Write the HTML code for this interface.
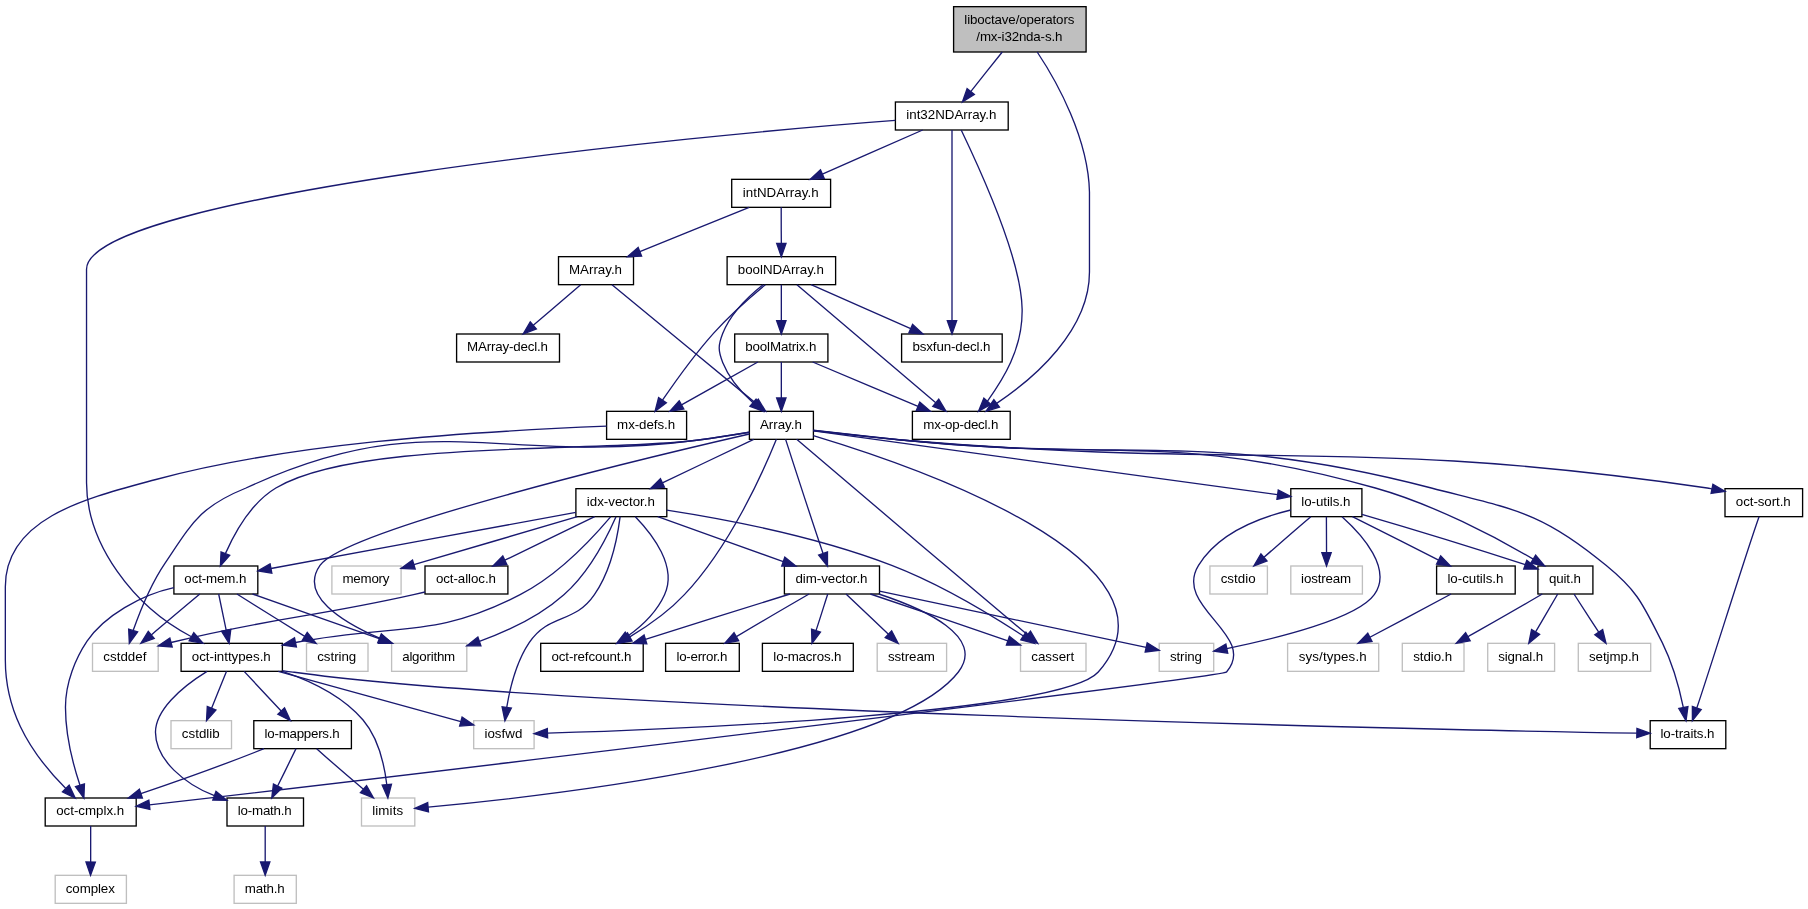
<!DOCTYPE html>
<html><head><meta charset="utf-8"><title>mx-i32nda-s.h include graph</title>
<style>html,body{margin:0;padding:0;background:#fff}svg{display:block;will-change:transform}text{font-family:"Liberation Sans",Helvetica,Arial,sans-serif;font-size:10px;text-anchor:middle;fill:#000}.e{fill:none;stroke:#191970;stroke-width:1}.a{fill:#191970;stroke:#191970;stroke-width:1}.n{fill:#fff;stroke:#000;stroke-width:1}.s{fill:#fff;stroke:#bfbfbf;stroke-width:1}.r{fill:#bfbfbf;stroke:#000;stroke-width:1}</style></head><body>
<svg width="1808" height="909" viewBox="0 0 1356 681.75">
<rect x="0" y="0" width="1356" height="682" fill="#fff"/>
<rect class="r" x="715.2" y="5" width="99.37" height="34"/>
<text x="764.51" y="17.9" textLength="82.5">liboctave/operators</text>
<text x="764.51" y="30.9" textLength="64.5">/mx-i32nda-s.h</text>
<rect class="n" x="671.55" y="76.5" width="84.6" height="21"/>
<text x="713.48" y="89.4" textLength="67.5">int32NDArray.h</text>
<rect class="n" x="548.78" y="134.5" width="74.17" height="21"/>
<text x="585.49" y="147.4" textLength="57">intNDArray.h</text>
<rect class="n" x="418.88" y="192.5" width="56.25" height="21"/>
<text x="446.62" y="205.4" textLength="39.75">MArray.h</text>
<rect class="n" x="545.33" y="192.5" width="81.38" height="21"/>
<text x="585.64" y="205.4" textLength="64.5">boolNDArray.h</text>
<rect class="n" x="342.45" y="250.5" width="77.17" height="21"/>
<text x="380.66" y="263.4" textLength="60.75">MArray-decl.h</text>
<rect class="n" x="551.03" y="250.5" width="69.9" height="21"/>
<text x="585.6" y="263.4" textLength="53.25">boolMatrix.h</text>
<rect class="n" x="676.2" y="250.5" width="75.45" height="21"/>
<text x="713.55" y="263.4" textLength="58.5">bsxfun-decl.h</text>
<rect class="n" x="454.95" y="308.5" width="60" height="21"/>
<text x="484.58" y="321.4" textLength="43.5">mx-defs.h</text>
<rect class="n" x="562.05" y="308.5" width="48" height="21"/>
<text x="585.67" y="321.4" textLength="31.5">Array.h</text>
<rect class="n" x="684.3" y="308.5" width="73.35" height="21"/>
<text x="720.6" y="321.4" textLength="56.25">mx-op-decl.h</text>
<rect class="n" x="431.92" y="366.5" width="68.18" height="21"/>
<text x="465.64" y="379.4" textLength="51">idx-vector.h</text>
<rect class="n" x="968.1" y="366.5" width="53.33" height="21"/>
<text x="994.39" y="379.4" textLength="36.75">lo-utils.h</text>
<rect class="n" x="1293.75" y="366.5" width="58.2" height="21"/>
<text x="1322.47" y="379.4" textLength="41.25">oct-sort.h</text>
<rect class="n" x="130.43" y="424.5" width="62.93" height="21"/>
<text x="161.51" y="437.4" textLength="46.5">oct-mem.h</text>
<rect class="s" x="248.92" y="424.5" width="51.9" height="21"/>
<text x="274.5" y="437.4" textLength="35.25">memory</text>
<rect class="n" x="318.75" y="424.5" width="62.17" height="21"/>
<text x="349.46" y="437.4" textLength="45">oct-alloc.h</text>
<rect class="n" x="588.3" y="424.5" width="71.33" height="21"/>
<text x="623.59" y="437.4" textLength="54">dim-vector.h</text>
<rect class="s" x="907.43" y="424.5" width="43.12" height="21"/>
<text x="928.61" y="437.4" textLength="26.25">cstdio</text>
<rect class="s" x="968.1" y="424.5" width="53.7" height="21"/>
<text x="994.58" y="437.4" textLength="37.5">iostream</text>
<rect class="n" x="1077.45" y="424.5" width="58.95" height="21"/>
<text x="1106.55" y="437.4" textLength="42">lo-cutils.h</text>
<rect class="n" x="1153.43" y="424.5" width="41.25" height="21"/>
<text x="1173.68" y="437.4" textLength="24">quit.h</text>
<rect class="s" x="69.38" y="482.5" width="49.27" height="21"/>
<text x="93.64" y="495.4" textLength="32.25">cstddef</text>
<rect class="n" x="135.82" y="482.5" width="75.97" height="21"/>
<text x="173.44" y="495.4" textLength="59.25">oct-inttypes.h</text>
<rect class="s" x="229.88" y="482.5" width="46.12" height="21"/>
<text x="252.56" y="495.4" textLength="29.25">cstring</text>
<rect class="s" x="293.7" y="482.5" width="56.4" height="21"/>
<text x="321.53" y="495.4" textLength="39.75">algorithm</text>
<rect class="n" x="405.53" y="482.5" width="76.88" height="21"/>
<text x="443.59" y="495.4" textLength="60">oct-refcount.h</text>
<rect class="n" x="499.2" y="482.5" width="55.27" height="21"/>
<text x="526.46" y="495.4" textLength="38.25">lo-error.h</text>
<rect class="n" x="571.8" y="482.5" width="68.17" height="21"/>
<text x="605.51" y="495.4" textLength="51">lo-macros.h</text>
<rect class="s" x="657.9" y="482.5" width="52.05" height="21"/>
<text x="683.55" y="495.4" textLength="35.25">sstream</text>
<rect class="s" x="765.38" y="482.5" width="49.12" height="21"/>
<text x="789.56" y="495.4" textLength="32.25">cassert</text>
<rect class="s" x="869.4" y="482.5" width="40.88" height="21"/>
<text x="889.46" y="495.4" textLength="24">string</text>
<rect class="s" x="965.7" y="482.5" width="68.33" height="21"/>
<text x="999.49" y="495.4" textLength="51">sys/types.h</text>
<rect class="s" x="1051.72" y="482.5" width="46.28" height="21"/>
<text x="1074.49" y="495.4" textLength="29.25">stdio.h</text>
<rect class="s" x="1115.78" y="482.5" width="50.17" height="21"/>
<text x="1140.49" y="495.4" textLength="33.75">signal.h</text>
<rect class="s" x="1183.72" y="482.5" width="54.3" height="21"/>
<text x="1210.5" y="495.4" textLength="37.5">setjmp.h</text>
<rect class="s" x="128.25" y="540.5" width="45.38" height="21"/>
<text x="150.56" y="553.4" textLength="28.5">cstdlib</text>
<rect class="n" x="190.35" y="540.5" width="73.2" height="21"/>
<text x="226.57" y="553.4" textLength="56.25">lo-mappers.h</text>
<rect class="s" x="355.27" y="540.5" width="45.3" height="21"/>
<text x="377.55" y="553.4" textLength="28.5">iosfwd</text>
<rect class="n" x="1237.65" y="540.5" width="56.7" height="21"/>
<text x="1265.62" y="553.4" textLength="40.5">lo-traits.h</text>
<rect class="n" x="33.9" y="598.5" width="68.25" height="21"/>
<text x="67.65" y="611.4" textLength="51">oct-cmplx.h</text>
<rect class="n" x="170.25" y="598.5" width="57.38" height="21"/>
<text x="198.56" y="611.4" textLength="40.5">lo-math.h</text>
<rect class="s" x="271.12" y="598.5" width="39.98" height="21"/>
<text x="290.74" y="611.4" textLength="23.25">limits</text>
<rect class="s" x="41.4" y="656.5" width="53.4" height="21"/>
<text x="67.73" y="669.4" textLength="36.75">complex</text>
<rect class="s" x="175.57" y="656.5" width="46.65" height="21"/>
<text x="198.53" y="669.4" textLength="30">math.h</text>
<path class="e" d="M751.7,39 C744.5,48 735.45,59.39 728.05,68.69"/>
<polygon class="a" points="725.31,66.5 721.8,76.5 730.78,70.88"/>
<path class="e" d="M777.9,39 C793,61.6 816.2,103.9 817.1,144 817.1,144 817.1,144 817.1,204 817.1,247.9 775.6,283.7 747.5,302.5"/>
<polygon class="a" points="745.4,299.7 739.5,308.5 749.6,305.3"/>
<path class="e" d="M692,97.5 C671.4,106.6 639.98,120.34 616.78,130.54"/>
<polygon class="a" points="615.39,127.32 607.6,134.5 618.17,133.75"/>
<path class="e" d="M671.5,90.3 C526.5,101 64.9,146 64.9,202 64.9,202 64.9,202 64.9,362 64.9,408 100.11,455.06 143.61,477.56"/>
<polygon class="a" points="141.88,480.6 152.3,482.5 145.33,474.52"/>
<path class="e" d="M720.9,97.5 C735,127 766,195 766.6,232 767,262 752.01,284.99 740.51,300.99"/>
<polygon class="a" points="737.88,298.68 733.9,308.5 743.13,303.31"/>
<path class="e" d="M714,97.5 C714,125 714,203 714,240.5"/>
<polygon class="a" points="710.5,240.5 714,250.5 717.5,240.5"/>
<path class="e" d="M561.9,155.5 C539.3,164.7 505.08,178.59 479.88,188.79"/>
<polygon class="a" points="478.58,185.54 470.6,192.5 481.18,192.04"/>
<path class="e" d="M585.9,155.5 C585.9,162.9 585.9,173.5 586,182.5"/>
<polygon class="a" points="582.5,182.5 586,192.5 589.5,182.5"/>
<path class="e" d="M435.5,213.5 C425.7,221.9 411.49,234.19 399.99,243.99"/>
<polygon class="a" points="397.71,241.33 392.4,250.5 402.27,246.65"/>
<path class="e" d="M459,213.5 C483.1,233.2 537.18,278.05 566.48,302.15"/>
<polygon class="a" points="564.25,304.85 574.2,308.5 568.7,299.44"/>
<path class="e" d="M597.5,329.5 C630.4,357.9 728.93,440.89 770.63,476.09"/>
<polygon class="a" points="768.38,478.77 778.3,482.5 772.87,473.4"/>
<path class="e" d="M562,324.2 C550.5,326.1 536.5,328.3 523.9,330 372,350.2 323,301.8 184.5,366 150,380 144.5,391.5 123.7,422.5 113.5,437.5 104.96,458.52 99.86,472.92"/>
<polygon class="a" points="96.51,471.92 97,482.5 103.22,473.92"/>
<path class="e" d="M562,325.5 C486.8,342.8 259.7,397 240,424 224.2,446.4 256.16,466.27 284.66,478.67"/>
<polygon class="a" points="283.32,481.9 293.9,482.5 286,475.44"/>
<path class="e" d="M610,326.7 C682.5,348.6 896.9,420.9 823.7,504 796.4,534.9 508.7,547 410.6,549.9"/>
<polygon class="a" points="410.49,546.4 400.6,550.2 410.7,553.4"/>
<path class="e" d="M589.2,329.5 C595.3,348.4 608.89,390.36 617.29,415.06"/>
<polygon class="a" points="613.99,416.22 620.6,424.5 620.6,413.91"/>
<path class="e" d="M582.3,329.5 C573.2,351.9 548.2,409 513.3,446 501.5,458.7 485.74,469.64 472.34,477.64"/>
<polygon class="a" points="470.64,474.58 463.6,482.5 474.04,480.7"/>
<path class="e" d="M565.3,329.5 C546,338.6 518.02,352.09 496.82,362.19"/>
<polygon class="a" points="495.31,359.03 487.8,366.5 498.33,365.35"/>
<path class="e" d="M610,322.8 C628.1,324.8 653.6,327.7 676,330 852.7,347.6 903.1,321.8 1073.5,366 1135.2,382 1155.6,383.3 1204.5,424 1228.9,443.9 1232.2,453.5 1246.7,482 1254.4,497.6 1259.62,516.6 1262.52,530.7"/>
<polygon class="a" points="1259.09,531.39 1264.5,540.5 1265.95,530"/>
<path class="e" d="M562,324.2 C550.5,326.1 536.5,328.3 523.9,330 453.7,339.6 267.6,329.3 206.9,366 188.5,377.1 176.15,399.13 169.05,415.23"/>
<polygon class="a" points="165.8,413.92 165.3,424.5 172.29,416.54"/>
<path class="e" d="M610,323.2 C677.4,332.6 876.4,359.79 958.2,370.99"/>
<polygon class="a" points="957.71,374.45 968.1,372.4 958.7,367.52"/>
<path class="e" d="M610,322.7 C628.1,324.7 653.7,327.6 676,330 834.3,346.6 879.8,323.4 1031.5,366 1075.4,378.3 1122.73,403.36 1149.93,419.36"/>
<polygon class="a" points="1148.12,422.36 1158.5,424.5 1151.73,416.35"/>
<path class="e" d="M610,323 C628.1,325.1 653.6,328.1 676,330 943.6,352.6 1015.2,327.2 1280.4,366 1281.7,366.2 1282.89,366.44 1283.99,366.64"/>
<polygon class="a" points="1283.31,370.07 1293.8,368.6 1284.68,363.21"/>
<path class="e" d="M652.8,445.5 C681.4,455.2 725.73,470.28 755.93,480.58"/>
<polygon class="a" points="754.81,483.89 765.4,483.8 757.06,477.27"/>
<path class="e" d="M659.1,445.5 C693.7,456.9 739.1,477.6 718.8,504 669.7,567.6 410.86,597 321.06,605.4"/>
<polygon class="a" points="320.75,601.92 311.1,606.3 321.37,608.89"/>
<path class="e" d="M634.5,445.5 C643.3,453.8 656.03,465.93 666.33,475.63"/>
<polygon class="a" points="663.93,478.17 673.6,482.5 668.74,473.09"/>
<path class="e" d="M659.6,443.4 C712.5,454.5 810.83,475.16 859.63,485.56"/>
<polygon class="a" points="858.88,488.98 869.4,487.7 860.38,482.14"/>
<path class="e" d="M606.8,445.5 C591.6,454.3 568.96,467.5 552.26,477.5"/>
<polygon class="a" points="550.51,474.47 543.6,482.5 554.01,480.53"/>
<path class="e" d="M620.8,445.5 C618.4,453 615.02,463.87 612.02,472.97"/>
<polygon class="a" points="608.68,471.91 609,482.5 615.35,474.02"/>
<path class="e" d="M592.5,445.5 C562.4,454.9 516.45,469.25 484.05,479.55"/>
<polygon class="a" points="483.02,476.2 474.5,482.5 485.09,482.89"/>
<path class="e" d="M500.1,382.6 C540.8,388.9 611.2,402 668.8,424 705.1,438 744.04,461.62 767.54,477.02"/>
<polygon class="a" points="765.62,479.95 775.9,482.5 769.45,474.09"/>
<path class="e" d="M462,387.5 C455.6,402 441.8,429.4 422.9,446 404.6,462.3 379.96,473.65 359.56,481.05"/>
<polygon class="a" points="358.42,477.74 350.1,484.3 360.69,484.36"/>
<path class="e" d="M465.1,387.5 C463.3,401.6 458.4,427.9 445.8,446 430.6,468.3 412.1,459.7 396.9,482 387.3,496.3 382.45,516.09 380.05,530.59"/>
<polygon class="a" points="376.58,530.12 378.7,540.5 383.51,531.06"/>
<path class="e" d="M493.3,387.5 C519.2,396.8 558.75,411.02 587.45,421.22"/>
<polygon class="a" points="586.31,424.53 596.9,424.5 588.6,417.92"/>
<path class="e" d="M476.5,387.5 C489.3,400.7 508.2,425.1 498.4,446 492.6,458.8 481.65,469.3 470.85,477"/>
<polygon class="a" points="468.93,474.08 462.5,482.5 472.78,479.92"/>
<path class="e" d="M433,387.5 C399.1,397.5 345.79,413.16 310.39,423.46"/>
<polygon class="a" points="309.4,420.11 300.8,426.3 311.38,426.82"/>
<path class="e" d="M458.1,387.5 C445.4,402.5 418.8,431.3 390.1,446 325,479.6 297.69,467.16 221.59,481.86"/>
<polygon class="a" points="220.88,478.44 211.8,483.9 222.3,485.29"/>
<path class="e" d="M446,387.5 C427.4,396.5 399.5,410.05 378.6,420.15"/>
<polygon class="a" points="377.08,417 369.6,424.5 380.13,423.3"/>
<path class="e" d="M431.9,384.3 C375.6,394.6 263.44,415.19 203.24,426.39"/>
<polygon class="a" points="202.6,422.95 193.4,428.2 203.87,429.84"/>
<path class="e" d="M208.7,503.5 C247,514.1 308.15,530.97 345.65,541.17"/>
<polygon class="a" points="344.73,544.55 355.3,543.8 346.57,537.79"/>
<path class="e" d="M211.8,503.5 C232.4,510.4 256.8,521.8 272.3,540 283.8,553.5 288.31,573.73 290.11,588.53"/>
<polygon class="a" points="286.62,588.81 290.9,598.5 293.6,588.25"/>
<path class="e" d="M169.9,503.5 C166.8,511.1 162.4,522.05 158.7,531.25"/>
<polygon class="a" points="155.46,529.92 154.9,540.5 161.94,532.58"/>
<path class="e" d="M211.8,502.9 C214.8,503.4 217.8,503.8 220.7,504.2 422.4,532 1062.85,547.5 1227.65,549.8"/>
<polygon class="a" points="1227.58,553.3 1237.65,550 1227.72,546.3"/>
<path class="e" d="M155.3,503.5 C135,516 116.6,533 116.6,549.2 116.6,570 138.8,588.29 160.8,596.79"/>
<polygon class="a" points="159.61,600.08 170.2,600.2 161.99,593.5"/>
<path class="e" d="M183.1,503.5 C190.7,511.7 201.78,523.58 210.88,533.28"/>
<polygon class="a" points="208.35,535.71 217.8,540.5 213.4,530.86"/>
<path class="e" d="M198.9,619.5 C198.9,626.9 198.9,637.5 198.9,646.5"/>
<polygon class="a" points="195.4,646.5 198.9,656.5 202.4,646.5"/>
<path class="e" d="M237.5,561.5 C246.8,569.9 260.89,582.09 272.59,591.89"/>
<polygon class="a" points="270.28,594.52 280.1,598.5 274.91,589.27"/>
<path class="e" d="M222,561.5 C218.3,569.1 212.83,580.34 208.23,589.54"/>
<polygon class="a" points="205.1,587.98 203.8,598.5 211.37,591.09"/>
<path class="e" d="M198,561.5 C175,570.7 136.24,584.9 105.64,595.2"/>
<polygon class="a" points="104.49,591.9 96.2,598.5 106.79,598.5"/>
<path class="e" d="M68,619.5 C68,626.9 68,637.5 68,646.5"/>
<polygon class="a" points="64.5,646.47 67.9,656.5 71.5,646.54"/>
<path class="e" d="M318.8,444 C315.8,444.7 312.9,445.4 310.2,446 232.3,463.5 209.78,462.18 128.28,481.88"/>
<polygon class="a" points="127.39,478.49 118.6,484.4 129.16,485.26"/>
<path class="e" d="M149.9,445.5 C139.6,454 125.04,466.37 113.44,476.17"/>
<polygon class="a" points="111.22,473.46 105.7,482.5 115.66,478.88"/>
<path class="e" d="M189.4,445.5 C215.5,454.8 255.75,469.02 284.95,479.22"/>
<polygon class="a" points="283.81,482.53 294.4,482.5 286.1,475.92"/>
<path class="e" d="M164,445.5 C165.5,452.9 167.77,463.73 169.67,472.73"/>
<polygon class="a" points="166.25,473.47 171.8,482.5 173.09,471.98"/>
<path class="e" d="M130.4,440.7 C106,446 78,462 65.3,480.9 56.8,493.5 49.1,512 49.1,530.4 49.1,552 54.98,573.94 59.98,588.94"/>
<polygon class="a" points="56.63,589.96 62.9,598.5 63.33,587.91"/>
<path class="e" d="M177.7,445.5 C191.7,454.2 212.49,467.34 228.59,477.24"/>
<polygon class="a" points="226.75,480.22 237.1,482.5 230.43,474.27"/>
<path class="e" d="M1006.5,387.5 C1021.7,401.1 1044.6,426.7 1030.7,446 1017.7,464.2 957.2,478.9 920.1,486.4"/>
<polygon class="a" points="919.4,482.97 910.3,488.4 920.8,489.83"/>
<path class="e" d="M968.1,382.5 C945.5,388 913.9,399.7 898.9,424 879.5,455.1 943.7,476.5 919.9,504 916.7,507.8 296.54,582.8 112.04,603.6"/>
<polygon class="a" points="111.65,600.12 102.1,604.7 112.43,607.07"/>
<path class="e" d="M983.1,387.5 C973.2,395.9 959.09,408.19 947.99,417.99"/>
<polygon class="a" points="945.71,415.33 940.4,424.5 950.27,420.65"/>
<path class="e" d="M994.8,387.5 C994.8,394.9 994.9,405.5 994.9,414.5"/>
<polygon class="a" points="991.4,414.5 994.9,424.5 998.4,414.5"/>
<path class="e" d="M1014.3,387.5 C1032.2,396.5 1058.96,409.93 1078.96,420.03"/>
<polygon class="a" points="1077.39,423.16 1087.9,424.5 1080.52,416.9"/>
<path class="e" d="M1021.4,385.8 C1049.9,394.1 1096.06,407.91 1143.96,423.51"/>
<polygon class="a" points="1142.81,426.82 1153.4,426.8 1145.1,420.21"/>
<path class="e" d="M1088.3,445.5 C1071.5,454.5 1046.4,467.85 1027.4,477.95"/>
<polygon class="a" points="1025.81,474.83 1018.5,482.5 1029,481.07"/>
<path class="e" d="M1156.7,445.5 C1141.7,454.4 1118.61,467.49 1100.91,477.59"/>
<polygon class="a" points="1099.2,474.54 1092.2,482.5 1102.63,480.64"/>
<path class="e" d="M1168.3,445.5 C1163.7,453.3 1157.2,464.5 1151.7,473.9"/>
<polygon class="a" points="1148.69,472.11 1146.6,482.5 1154.71,475.68"/>
<path class="e" d="M1180.5,445.5 C1185.5,453.3 1192.94,464.72 1199.04,474.12"/>
<polygon class="a" points="1196.11,476.03 1204.5,482.5 1201.98,472.21"/>
<path class="e" d="M1319.3,387.5 C1309.4,415.2 1284.98,494.25 1272.58,531.05"/>
<polygon class="a" points="1269.28,529.91 1269.3,540.5 1275.89,532.2"/>
<path class="e" d="M572.3,213.5 C561.8,221.8 548,234.8 542.1,250 538.5,259.1 538.5,262.9 542.1,272 546.7,283.6 555.97,294.14 564.77,302.04"/>
<polygon class="a" points="562.51,304.71 572.4,308.5 567.03,299.37"/>
<path class="e" d="M586,213.5 C586,220.9 586,231.5 586,240.5"/>
<polygon class="a" points="582.5,240.5 586,250.5 589.5,240.5"/>
<path class="e" d="M574,213.5 C563.2,222.4 547.3,236.4 535.1,250 520.9,265.9 506.55,285.98 496.85,300.18"/>
<polygon class="a" points="493.93,298.24 491.3,308.5 499.76,302.12"/>
<path class="e" d="M597.7,213.5 C621.3,233.2 673.32,278 701.82,302.1"/>
<polygon class="a" points="699.58,304.79 709.5,308.5 704.06,299.41"/>
<path class="e" d="M608.3,213.5 C629,222.6 660.03,236.3 683.03,246.5"/>
<polygon class="a" points="681.63,249.71 692.2,250.5 684.43,243.29"/>
<path class="e" d="M586,271.5 C586,278.9 586,289.5 586,298.5"/>
<polygon class="a" points="582.5,298.5 586,308.5 589.5,298.5"/>
<path class="e" d="M568.4,271.5 C552.6,280.4 529.16,293.58 511.16,303.68"/>
<polygon class="a" points="509.47,300.61 502.4,308.5 512.85,306.74"/>
<path class="e" d="M609.5,271.5 C631.4,280.7 664.23,294.55 688.53,304.75"/>
<polygon class="a" points="687.22,308 697.8,308.5 689.84,301.51"/>
<path class="e" d="M455,319.6 C345,324.1 216.2,332.8 116.2,359.8 66.2,373.3 4,388 4,440 4,440 4,470 4,495 4,530 18.87,560.88 49.37,591.38"/>
<polygon class="a" points="46.88,593.84 56.4,598.5 51.86,588.93"/>
</svg></body></html>
